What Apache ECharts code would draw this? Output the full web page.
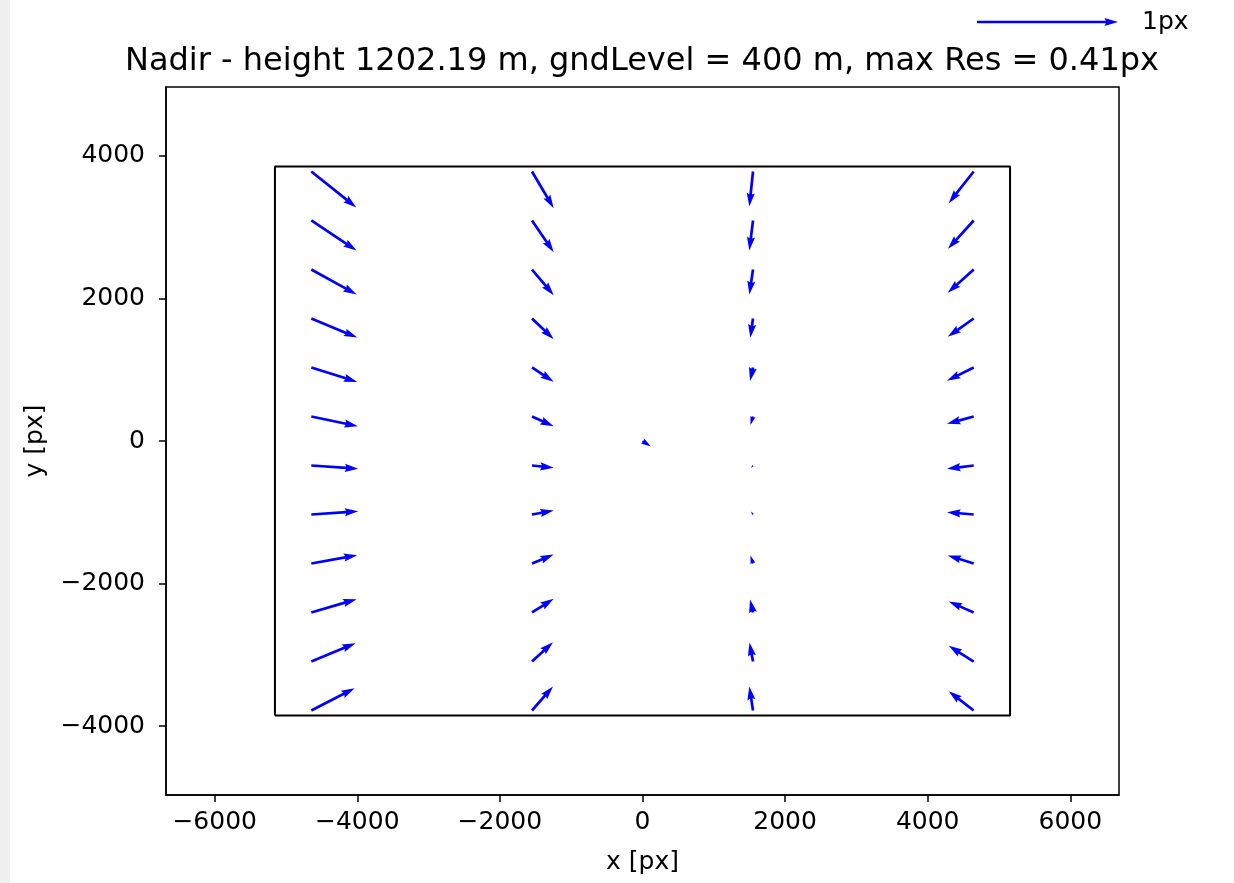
<!DOCTYPE html>
<html><head><meta charset="utf-8">
<script src="https://cdn.jsdelivr.net/npm/echarts@6/dist/echarts.min.js"></script>
<style>html,body{margin:0;padding:0;background:#fff}#main{width:1234px;height:883px}</style>
</head><body><div id="main"></div>
<script>
// ---------- data ----------
const titleText = 'Nadir - height 1202.19 m, gndLevel = 400 m, max Res = 0.41px';
const xTicks = [-6000, -4000, -2000, 0, 2000, 4000, 6000];
const yTicks = [-4000, -2000, 0, 2000, 4000];
const xLimits = [-6683, 6683];
const yLimits = [-4965, 4965];
const frameX = [-5155, 5155];
const frameY = [-3850, 3850];
// tail positions of the residual grid (image px)
const gridX = [-4645, -1550, 1550, 4645];
const gridY = [3780, 3093, 2405, 1718, 1031, 344, -344, -1031, -1718, -2405, -3093, -3780];
// residuals in px (u to the right, v upward), rows top to bottom
const col1U = [0.319, 0.321, 0.321, 0.326, 0.326, 0.330, 0.333, 0.333, 0.326, 0.321, 0.314, 0.307];
const col1V = [-0.255, -0.213, -0.177, -0.135, -0.102, -0.069, -0.023, 0.023, 0.059, 0.094, 0.130, 0.158];
const col2U = [0.154, 0.154, 0.154, 0.154, 0.154, 0.154, 0.154, 0.154, 0.154, 0.154, 0.149, 0.149];
const col2V = [-0.260, -0.225, -0.182, -0.147, -0.101, -0.069, -0.016, 0.028, 0.064, 0.097, 0.137, 0.170];
const col3U = [-0.026, -0.026, -0.026, -0.019, -0.021, -0.018, -0.014, -0.014, -0.018, -0.021, -0.025, -0.026];
const col3V = [-0.248, -0.213, -0.177, -0.137, -0.096, -0.060, -0.018, 0.021, 0.057, 0.092, 0.135, 0.170];
const col4U = [-0.177, -0.182, -0.184, -0.184, -0.189, -0.189, -0.189, -0.189, -0.184, -0.177, -0.177, -0.177];
const col4V = [-0.225, -0.201, -0.165, -0.130, -0.094, -0.052, -0.023, 0.016, 0.057, 0.078, 0.111, 0.137];
const centerPoint = [0, 0];
const centerRes = [0.060, -0.039];
const keyValue = 1;
const keyLabel = '1px';

// ---------- styling constants ----------
const QUIVER_SCALE = 1978;       // data units drawn per 1 px of residual
const ARROW_W = 2.7;             // shaft width in screen px
const HEADLEN = 5, HEADWID = 3, HEADAXLEN = 4.5, MINLEN = 1;
const FONT = 'DejaVu Sans';
const BLUE = '#0000ff';

const colsU = [col1U, col2U, col3U, col4U];
const colsV = [col1V, col2V, col3V, col4V];
const quiverData = [];
gridX.forEach((gx, c) => {
  gridY.forEach((gy, r) => {
    quiverData.push([gx, gy, colsU[c][r], colsV[c][r]]);
  });
});
quiverData.push([centerPoint[0], centerPoint[1], centerRes[0], centerRes[1]]);

const frameData = [
  [frameX[0], frameY[0]], [frameX[1], frameY[0]], [frameX[1], frameY[1]],
  [frameX[0], frameY[1]], [frameX[0], frameY[0]]
];

function arrowPoints(p0, p1) {
  const dx = p1[0] - p0[0], dy = p1[1] - p0[1];
  const Lpx = Math.hypot(dx, dy);
  const L = Lpx / ARROW_W;
  if (L < MINLEN) {
    const pts = [];
    for (let i = 0; i < 6; i++) {
      const a = i * Math.PI / 3;
      pts.push([p0[0] + Math.cos(a) * ARROW_W * 0.5, p0[1] + Math.sin(a) * ARROW_W * 0.5]);
    }
    return pts;
  }
  let X, Y;
  const minsh = HEADLEN;
  if (L >= minsh) {
    X = [0, L - HEADAXLEN, L - HEADLEN, L];
    Y = [0.5, 0.5, HEADWID / 2, 0];
  } else {
    const s = L / minsh;
    X = [0, minsh - HEADAXLEN, minsh - HEADLEN, minsh].map(v => v * s);
    Y = [0.5, 0.5, HEADWID / 2, 0].map(v => v * s);
  }
  const ux = dx / Lpx, uy = dy / Lpx, nx = -uy, ny = ux;
  const pts = [];
  for (let i = 0; i < 4; i++) pts.push([p0[0] + (ux * X[i] + nx * Y[i]) * ARROW_W, p0[1] + (uy * X[i] + ny * Y[i]) * ARROW_W]);
  for (let i = 2; i >= 0; i--) pts.push([p0[0] + (ux * X[i] - nx * Y[i]) * ARROW_W, p0[1] + (uy * X[i] - ny * Y[i]) * ARROW_W]);
  return pts;
}

const fmt = v => (v < 0 ? '\u2212' + Math.abs(v) : String(v));

const chart = echarts.init(document.getElementById('main'), null, { renderer: 'canvas' });
chart.setOption({
  backgroundColor: '#ffffff',
  animation: false,
  graphic: [
    { type: 'rect', left: 0, top: 0, shape: { width: 10, height: 883 }, style: { fill: '#f0f0f0' }, silent: true, z: -10 },
    { type: 'text', x: 642, y: 62, style: { text: titleText, font: '32px "DejaVu Sans"', fill: '#000', textAlign: 'center', textVerticalAlign: 'middle' } }
  ],
  grid: {
    left: 166, top: 87, width: 953, height: 708,
    show: true, borderColor: '#000', borderWidth: 1.5, backgroundColor: 'transparent',
    containLabel: false, outerBoundsMode: 'none'
  },
  xAxis: {
    type: 'value', min: xLimits[0], max: xLimits[1],
    axisLine: { show: true, onZero: false, lineStyle: { color: '#000', width: 1.5 } },
    axisTick: { show: true, length: 7, customValues: xTicks, lineStyle: { color: '#000', width: 1.5 } },
    axisLabel: { customValues: xTicks, formatter: fmt, fontSize: 25, fontFamily: FONT, color: '#000', margin: 15 },
    splitLine: { show: false },
    name: 'x [px]', nameLocation: 'middle', nameGap: 55,
    nameTextStyle: { fontSize: 25, fontFamily: FONT, color: '#000' }
  },
  yAxis: {
    type: 'value', min: yLimits[0], max: yLimits[1],
    axisLine: { show: true, onZero: false, lineStyle: { color: '#000', width: 1.5 } },
    axisTick: { show: true, length: 7, customValues: yTicks, lineStyle: { color: '#000', width: 1.5 } },
    axisLabel: { customValues: yTicks, formatter: fmt, fontSize: 25, fontFamily: FONT, color: '#000', margin: 21 },
    splitLine: { show: false },
    name: 'y [px]', nameLocation: 'middle', nameGap: 118,
    nameTextStyle: { fontSize: 25, fontFamily: FONT, color: '#000' }
  },
  series: [
    {
      type: 'line', data: frameData, showSymbol: false, symbol: 'none',
      lineStyle: { color: '#000', width: 2 }, silent: true, z: 2
    },
    {
      type: 'custom', data: quiverData, z: 3, silent: true,
      renderItem: function (params, api) {
        const x = api.value(0), y = api.value(1), u = api.value(2), v = api.value(3);
        const p0 = api.coord([x, y]);
        const p1 = api.coord([x + u * QUIVER_SCALE, y + v * QUIVER_SCALE]);
        return { type: 'polygon', shape: { points: arrowPoints(p0, p1) }, style: { fill: BLUE } };
      }
    },
    {
      type: 'custom', data: [[keyValue]], z: 3, silent: true, clip: false,
      renderItem: function (params, api) {
        const len = api.coord([api.value(0) * QUIVER_SCALE, 0])[0] - api.coord([0, 0])[0];
        const p0 = [977, 22];
        const p1 = [977 + len, 22];
        return {
          type: 'group',
          children: [
            { type: 'polygon', shape: { points: arrowPoints(p0, p1) }, style: { fill: BLUE } },
            { type: 'text', style: { text: keyLabel, x: p1[0] + 24, y: 22, font: '25px "DejaVu Sans"', fill: '#000', textVerticalAlign: 'middle' } }
          ]
        };
      }
    }
  ]
});
</script>
</body></html>
